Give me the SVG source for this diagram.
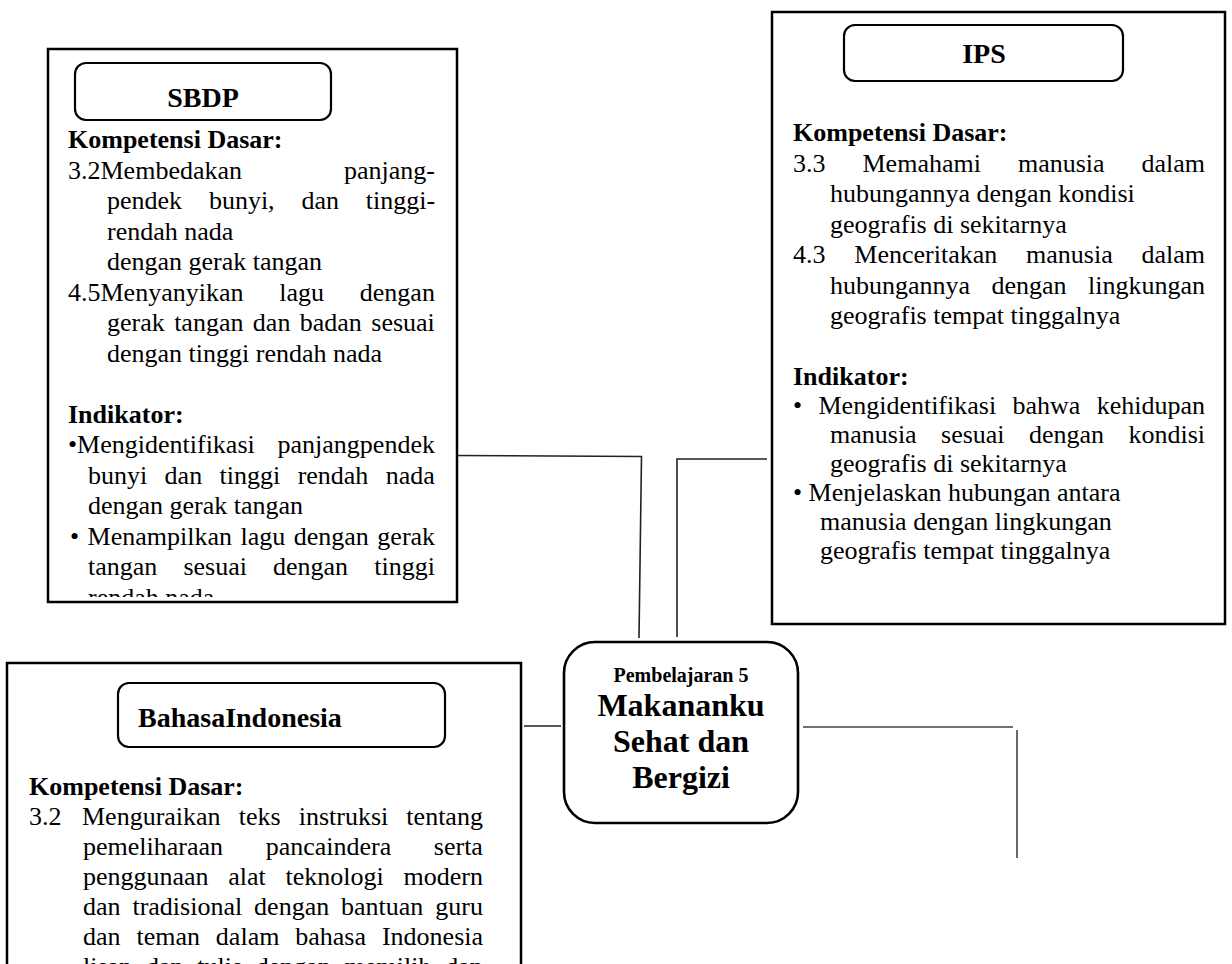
<svg xmlns="http://www.w3.org/2000/svg" width="1232" height="964" viewBox="0 0 1232 964">
  <style>
    .box { fill: #fff; stroke: #000; stroke-width: 2.5; }
    .pill { fill: #fff; stroke: #000; stroke-width: 2.2; }
    .hub { fill: #fff; stroke: #000; stroke-width: 2.6; }
    .t { font-family: "Liberation Serif", "Times New Roman", serif; font-size: 26px; fill: #000; }
    .b { font-weight: bold; }
    .title { font-family: "Liberation Serif", "Times New Roman", serif; font-size: 28px; font-weight: bold; fill: #000; }
    .hubtext { font-family: "Liberation Serif", "Times New Roman", serif; font-weight: bold; fill: #000; }
    .link { fill: none; stroke: #222; stroke-width: 1.6; }
    .link2 { fill: none; stroke: #444; stroke-width: 1.6; }
  </style>
  <defs>
    <!-- text area of the SBDP panel; the last line runs past the frame -->
    <clipPath id="sbdp-clip">
      <rect x="49" y="50" width="407" height="547"/>
    </clipPath>
  </defs>

  <rect width="1232" height="964" fill="#fff"/>

  <!-- connectors -->
  <g id="connectors">
    <polyline class="link" points="453,455.5 641.5,456.5 639,638"/>
    <polyline class="link" points="767,459 677,459 677,637"/>
    <line class="link" x1="524" y1="726" x2="561" y2="726"/>
    <line class="link2" x1="803" y1="727" x2="1013" y2="727"/>
    <line class="link2" x1="1017" y1="730" x2="1017" y2="858"/>
  </g>

  <!-- SBDP -->
  <g id="node-sbdp">
    <rect class="box" x="48" y="49" width="409" height="553"/>
    <rect class="pill" x="75" y="63" width="256" height="57" rx="11"/>
    <text class="title" x="203" y="107" text-anchor="middle">SBDP</text>
    <g clip-path="url(#sbdp-clip)">
      <text class="t b" x="68" y="148">Kompetensi Dasar:</text>
      <text class="t" x="68" y="178.5">3.2Membedakan</text>
      <text class="t" x="435" y="178.5" text-anchor="end">panjang-</text>
      <text class="t" x="107" y="209" word-spacing="20.3">pendek bunyi, dan tinggi-</text>
      <text class="t" x="107" y="239.5">rendah nada</text>
      <text class="t" x="107" y="270">dengan gerak tangan</text>
      <text class="t" x="68" y="300.5" word-spacing="29.3">4.5Menyanyikan lagu dengan</text>
      <text class="t" x="107" y="331" word-spacing="2.9">gerak tangan dan badan sesuai</text>
      <text class="t" x="107" y="361.5">dengan tinggi rendah nada</text>
      <text class="t b" x="68" y="422.5">Indikator:</text>
      <text class="t" x="68" y="453" word-spacing="16.3">•Mengidentifikasi panjangpendek</text>
      <text class="t" x="88" y="483.5" word-spacing="10.9">bunyi dan tinggi rendah nada</text>
      <text class="t" x="88" y="514">dengan gerak tangan</text>
      <text class="t" x="70" y="544.5" word-spacing="2">• Menampilkan lagu dengan gerak</text>
      <text class="t" x="88" y="575" word-spacing="19.6">tangan sesuai dengan tinggi</text>
      <text class="t" x="88" y="605.5">rendah nada</text>
    </g>
  </g>

  <!-- IPS -->
  <g id="node-ips">
    <rect class="box" x="772" y="12" width="453" height="612"/>
    <rect class="pill" x="844" y="25" width="279" height="56" rx="11"/>
    <text class="title" x="984" y="63" text-anchor="middle">IPS</text>
    <text class="t b" x="793" y="141">Kompetensi Dasar:</text>
    <text class="t" x="793" y="171.5" word-spacing="30.5">3.3 Memahami manusia dalam</text>
    <text class="t" x="830" y="202">hubungannya dengan kondisi</text>
    <text class="t" x="830" y="232.5">geografis di sekitarnya</text>
    <text class="t" x="793" y="263" word-spacing="22.3">4.3 Menceritakan manusia dalam</text>
    <text class="t" x="830" y="293.5" word-spacing="14.9">hubungannya dengan lingkungan</text>
    <text class="t" x="830" y="324">geografis tempat tinggalnya</text>
    <text class="t b" x="793" y="385">Indikator:</text>
    <text class="t" x="793" y="414" word-spacing="9.9">• Mengidentifikasi bahwa kehidupan</text>
    <text class="t" x="830" y="443" word-spacing="17.9">manusia sesuai dengan kondisi</text>
    <text class="t" x="830" y="472">geografis di sekitarnya</text>
    <text class="t" x="793" y="501">• Menjelaskan hubungan antara</text>
    <text class="t" x="820" y="530">manusia dengan lingkungan</text>
    <text class="t" x="820" y="559">geografis tempat tinggalnya</text>
  </g>

  <!-- Bahasa Indonesia -->
  <g id="node-bahasa">
    <rect class="box" x="7" y="663" width="514" height="320"/>
    <rect class="pill" x="118" y="683" width="327" height="64" rx="11"/>
    <text class="title" x="138" y="727">BahasaIndonesia</text>
    <text class="t b" x="29" y="795">Kompetensi Dasar:</text>
    <text class="t" x="29" y="825">3.2</text>
    <text class="t" x="82" y="825" word-spacing="11.6">Menguraikan teks instruksi tentang</text>
    <text class="t" x="83" y="855" word-spacing="36.1">pemeliharaan pancaindera serta</text>
    <text class="t" x="83" y="885" word-spacing="13.2">penggunaan alat teknologi modern</text>
    <text class="t" x="83" y="915" word-spacing="5.4">dan tradisional dengan bantuan guru</text>
    <text class="t" x="83" y="945" word-spacing="9.4">dan teman dalam bahasa Indonesia</text>
    <text class="t" x="83" y="975" word-spacing="7.3">lisan dan tulis dengan memilih dan</text>
  </g>

  <!-- central topic -->
  <g id="node-center">
    <rect class="hub" x="564" y="642" width="234" height="181" rx="31"/>
    <text class="hubtext" x="681" y="682" text-anchor="middle" font-size="20">Pembelajaran 5</text>
    <text class="hubtext" x="681" y="716" text-anchor="middle" font-size="32">Makananku</text>
    <text class="hubtext" x="681" y="752" text-anchor="middle" font-size="32">Sehat dan</text>
    <text class="hubtext" x="681" y="788" text-anchor="middle" font-size="32">Bergizi</text>
  </g>
</svg>
